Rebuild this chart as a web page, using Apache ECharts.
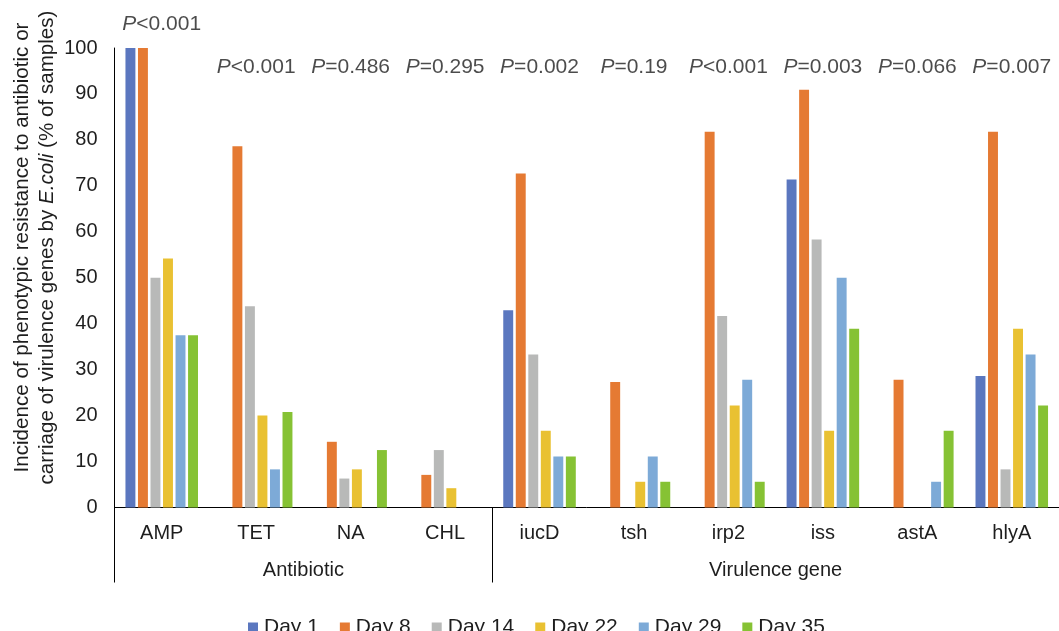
<!DOCTYPE html>
<html>
<head>
<meta charset="utf-8">
<script src="https://cdn.jsdelivr.net/npm/echarts@6/dist/echarts.min.js"></script>
<style>
html,body{margin:0;padding:0;background:#fff;}
#chart{width:1059px;height:631px;}
</style>
</head>
<body>
<div id="chart"></div>
<script>
var categories = ['AMP','TET','NA','CHL','iucD','tsh','irp2','iss','astA','hlyA'];
var seriesNames = ['Day 1','Day 8','Day 14','Day 22','Day 29','Day 35'];
var day1  = [100, 0, 0, 0, 42.9, 0, 0, 71.4, 0, 28.6];
var day8  = [100, 78.6, 14.3, 7.1, 72.7, 27.3, 81.8, 90.9, 27.8, 81.8];
var day14 = [50, 43.8, 6.3, 12.5, 33.3, 0, 41.7, 58.3, 0, 8.3];
var day22 = [54.2, 20, 8.3, 4.2, 16.7, 5.6, 22.2, 16.7, 0, 38.9];
var day29 = [37.5, 8.3, 0, 0, 11.1, 11.1, 27.8, 50, 5.6, 33.3];
var day35 = [37.5, 20.8, 12.5, 0, 11.1, 5.6, 5.6, 38.9, 16.7, 22.2];
var pValues = ['<0.001','<0.001','=0.486','=0.295','=0.002','=0.19','<0.001','=0.003','=0.066','=0.007'];
var groupNames = ['Antibiotic','Virulence gene'];
var groupSizes = [4, 6];
var yTicks = [0,10,20,30,40,50,60,70,80,90,100];

var colors = ['#5B77BF','#E57A33','#B8B9B8','#E9C132','#7DAAD7','#86C234'];
var FONT = '"Liberation Sans", Arial, sans-serif';
var TXT = '#1e1e1e';
var allDays = [day1, day8, day14, day22, day29, day35];

var chart = echarts.init(document.getElementById('chart'), null, {renderer:'canvas'});

var barSeries = allDays.map(function(d, i){
  return {
    name: seriesNames[i], type: 'bar', xAxisIndex: 0, yAxisIndex: 0,
    data: d, barGap: '26%', barCategoryGap: '23.2%',
    itemStyle: {color: colors[i]}
  };
});

// P-value labels: placed above the plot (first one higher because its bars reach 100)
var pData = pValues.map(function(p, i){
  return {value: [i, i === 0 ? 105.1 : 95.9], p: p};
});
var pSeries = {
  type: 'scatter', xAxisIndex: 0, yAxisIndex: 0, symbolSize: 0, clip: false,
  silent: true, z: 10,
  data: pData,
  label: {
    show: true, position: 'inside',
    formatter: function(prm){ return '{i|P}{n|' + prm.data.p + '}'; },
    rich: {
      i: {fontStyle: 'italic', fontSize: 21, fontFamily: FONT, color: TXT},
      n: {fontSize: 21, fontFamily: FONT, color: TXT}
    }
  }
};

// group boundaries & centres on a 0..N value axis
var bounds = [0], centres = [];
var acc = 0;
groupSizes.forEach(function(s){ centres.push(acc + s/2); acc += s; bounds.push(acc); });

var option = {
  animation: false,
  backgroundColor: '#fff',
  grid: {left: 114.5, right: -10.5, top: 48, bottom: 123.5, containLabel: false},
  legend: {
    data: seriesNames, left: 243, top: 612,
    itemWidth: 10, itemHeight: 10, itemGap: 21,
    icon: 'rect',
    textStyle: {fontSize: 21, fontFamily: FONT, color: TXT, padding: [0,0,0,1]}
  },
  xAxis: [
    {
      type: 'category', data: categories, position: 'bottom',
      axisLine: {show: true, lineStyle: {color: '#000', width: 1}},
      axisTick: {show: false},
      axisLabel: {fontSize: 20, fontFamily: FONT, color: TXT, margin: 16, interval: 0},
      splitLine: {show: false}
    },
    {
      type: 'value', min: 0, max: categories.length, position: 'bottom',
      axisLine: {show: false},
      axisTick: {show: true, customValues: bounds.slice(0, -1), length: 75, lineStyle: {color: '#000', width: 1}},
      axisLabel: {
        show: true, customValues: centres, margin: 53,
        fontSize: 20, fontFamily: FONT, color: TXT,
        formatter: function(v){ var k = centres.indexOf(v); return k >= 0 ? groupNames[k] : ''; }
      },
      splitLine: {show: false}
    }
  ],
  yAxis: {
    type: 'value', min: 0, max: 100, interval: 10,
    axisLine: {show: true, lineStyle: {color: '#000', width: 1}},
    axisTick: {show: false},
    splitLine: {show: false},
    axisLabel: {fontSize: 20, fontFamily: FONT, color: TXT, margin: 17,
      formatter: function(v){ return yTicks.indexOf(v) >= 0 ? String(v) : ''; }}
  },
  graphic: [{
    type: 'text', x: 35, y: 247.5, rotation: Math.PI/2,
    style: {
      text: 'Incidence of phenotypic resistance to antibiotic or\n{n|carriage of virulence genes by }{i|E.coli}{n| (% of samples)}',
      font: '20.6px ' + FONT, fill: TXT,
      align: 'center', verticalAlign: 'middle', lineHeight: 25,
      rich: {
        i: {fontStyle: 'italic', fontSize: 20.6, fontFamily: FONT, fill: TXT, lineHeight: 25},
        n: {fontSize: 20.6, fontFamily: FONT, fill: TXT, lineHeight: 25}
      }
    }
  }],
  series: barSeries.concat([pSeries])
};
chart.setOption(option);
</script>
</body>
</html>
